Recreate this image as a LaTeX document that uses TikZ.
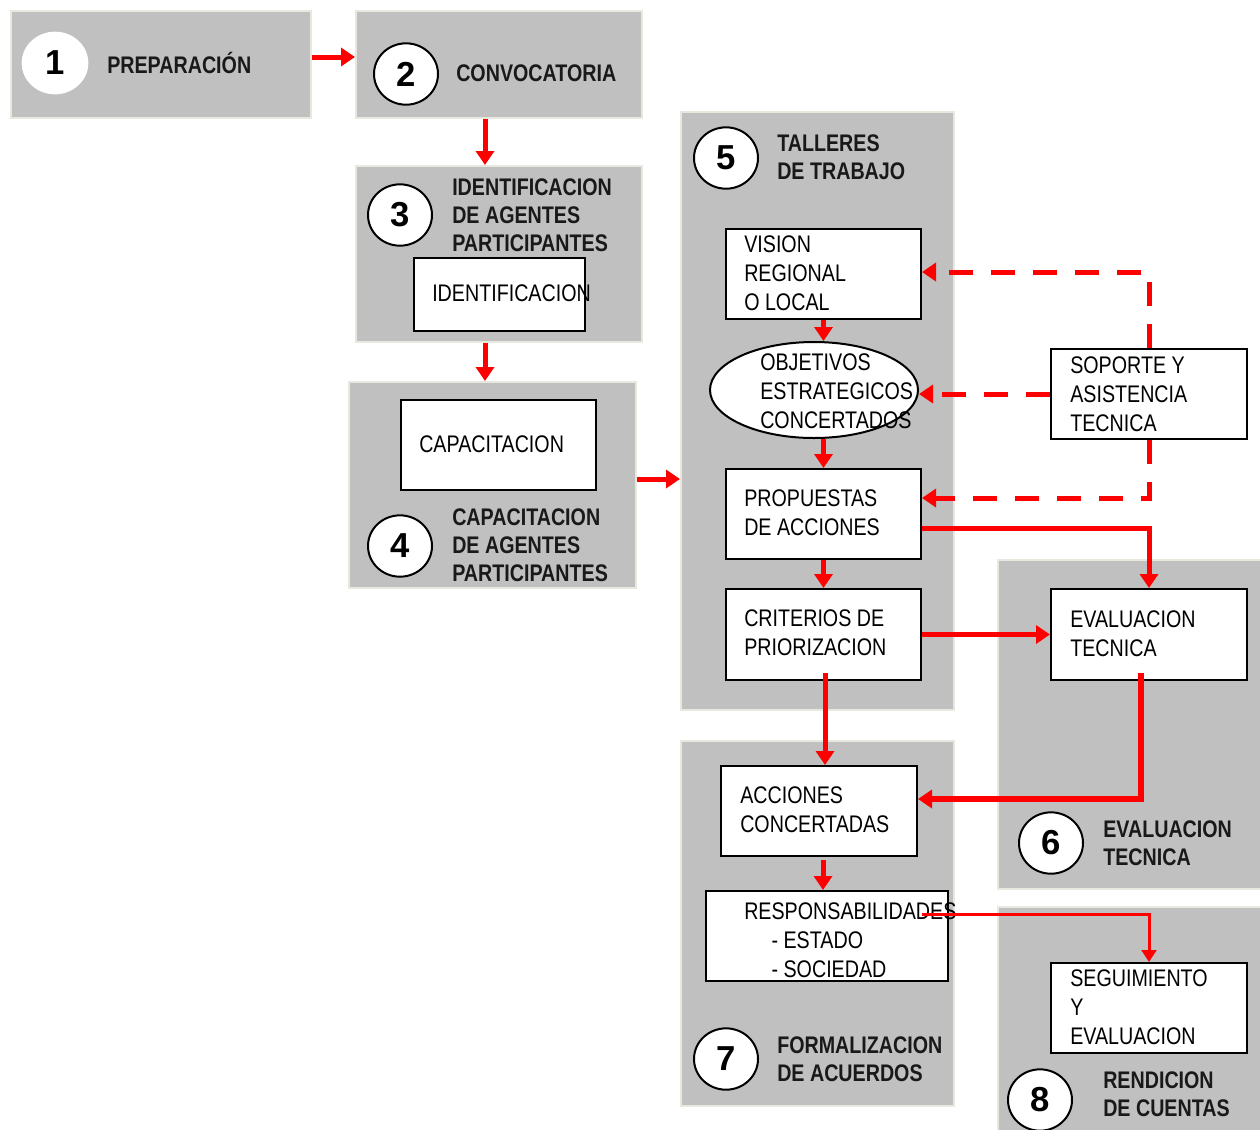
\documentclass[tikz,border=0pt]{standalone}
\usepackage{fontspec}
\setmainfont{Liberation Sans}[FakeStretch=0.82]
\newfontfamily\numfont{Liberation Sans}
\usetikzlibrary{shapes.geometric,arrows.meta}
\definecolor{panelgray}{HTML}{C0C0C0}
\definecolor{paneledge}{HTML}{E8E8DE}
\definecolor{arrred}{HTML}{FF0000}
\newcommand\boxfont{\fontsize{18}{21.75}\selectfont}
\newcommand\ttlfont{\bfseries\fontsize{18}{21}\selectfont}
\begin{document}
\begin{tikzpicture}[x=0.75pt,y=-0.75pt,
  panel/.style={draw=paneledge, fill=panelgray, line width=1.2pt, inner sep=0pt, anchor=north west},
  wbox/.style={draw=black, fill=white, line width=1.5pt, inner sep=0pt, anchor=north west},
  txt/.style={anchor=west, align=left, inner sep=0pt, font=\boxfont, text=black},
  ttl/.style={anchor=west, align=left, inner sep=0pt, font=\ttlfont, text=black!90},
  numc/.style={ellipse, draw=black, line width=1.5pt, fill=white, inner sep=0pt,
    minimum width=48pt, minimum height=46pt, font=\numfont\bfseries\fontsize{26}{26}\selectfont},
  arr/.style={draw=arrred, line width=3.75pt, -{Triangle[length=10.5pt,width=13.5pt]}},
  darr/.style={arr, dash pattern=on 18pt off 13.5pt},
  tarr/.style={draw=arrred, line width=2.25pt, -{Triangle[length=9pt,width=11pt]}}
]
\useasboundingbox (0,0) rectangle (1260,1129);

% panels
\node[panel, minimum width=300*0.75pt, minimum height=107*0.75pt] (p1) at (10,10) {};
\node[panel, minimum width=286*0.75pt, minimum height=107*0.75pt] (p2) at (355,10) {};
\node[panel, minimum width=286*0.75pt, minimum height=176*0.75pt] (p3) at (355,165) {};
\node[panel, minimum width=287*0.75pt, minimum height=206*0.75pt] (p4) at (348,381) {};
\node[panel, minimum width=273*0.75pt, minimum height=598*0.75pt] (p5) at (680,111) {};
\node[panel, minimum width=268*0.75pt, minimum height=329*0.75pt] (p6) at (997,559) {};
\node[panel, minimum width=273*0.75pt, minimum height=365*0.75pt] (p7) at (680,740) {};
\node[panel, minimum width=268*0.75pt, minimum height=228*0.75pt] (p8) at (997,906) {};

% number circles
\node[numc, draw=none, minimum width=50pt, minimum height=47pt] (c1) at (55,63) {1};
\node[numc] (c2) at (406,74) {2};
\node[numc] (c3) at (400,215) {3};
\node[numc] (c4) at (400,546) {4};
\node[numc] (c5) at (726,158) {5};
\node[numc] (c6) at (1051,843) {6};
\node[numc] (c7) at (726,1059) {7};
\node[numc] (c8) at (1040,1100) {8};

% panel titles
\node[ttl] (t1) at (107,63) {PREPARACIÓN};
\node[ttl] (t2) at (456,73) {CONVOCATORIA};
\node[ttl] (t3) at (452,215) {IDENTIFICACION\\DE AGENTES\\PARTICIPANTES};
\node[ttl] (t4) at (452,545) {CAPACITACION\\DE AGENTES\\PARTICIPANTES};
\node[ttl] (t5) at (777,157) {TALLERES\\DE TRABAJO};
\node[ttl] (t6) at (1103,843) {EVALUACION\\TECNICA};
\node[ttl] (t7) at (777,1059) {FORMALIZACION\\DE ACUERDOS};
\node[ttl] (t8) at (1103,1094) {RENDICION\\DE CUENTAS};

% white boxes
\node[wbox, minimum width=171*0.75pt, minimum height=73*0.75pt] (ident) at (413,257) {};
\node[wbox, minimum width=195*0.75pt, minimum height=90*0.75pt] (cap) at (400,399) {};
\node[wbox, minimum width=195*0.75pt, minimum height=90*0.75pt] (vision) at (725,228) {};
\node[ellipse, draw=black, fill=white, line width=1.5pt, inner sep=0pt,
      minimum width=208*0.75pt, minimum height=96*0.75pt] (obj) at (814,390) {};
\node[wbox, minimum width=195*0.75pt, minimum height=90*0.75pt] (prop) at (725,468) {};
\node[wbox, minimum width=195*0.75pt, minimum height=91*0.75pt] (crit) at (725,588) {};
\node[wbox, minimum width=196*0.75pt, minimum height=90*0.75pt] (sop) at (1050,348) {};
\node[wbox, minimum width=196*0.75pt, minimum height=91*0.75pt] (eval) at (1050,588) {};
\node[wbox, minimum width=196*0.75pt, minimum height=90*0.75pt] (acc) at (720,765) {};
\node[wbox, minimum width=242*0.75pt, minimum height=90*0.75pt] (resp) at (705,890) {};
\node[wbox, minimum width=196*0.75pt, minimum height=90*0.75pt] (seg) at (1050,962) {};

% box texts
\node[txt] (identt) at (432,293) {IDENTIFICACION};
\node[txt] (capt) at (419,444) {CAPACITACION};
\node[txt] (visiont) at (744,273) {VISION\\REGIONAL\\O LOCAL};
\node[txt] (objt) at (760,391) {OBJETIVOS\\ESTRATEGICOS\\CONCERTADOS};
\node[txt] (propt) at (744,513) {PROPUESTAS\\DE ACCIONES};
\node[txt] (critt) at (744,633) {CRITERIOS DE\\PRIORIZACION};
\node[txt] (sopt) at (1070,394) {SOPORTE Y\\ASISTENCIA\\TECNICA};
\node[txt] (evalt) at (1070,634) {EVALUACION\\TECNICA};
\node[txt] (acct) at (740,810) {ACCIONES\\CONCERTADAS};
\node[txt] (respt) at (744,940) {RESPONSABILIDADES\\\hspace*{20.5pt}- ESTADO\\\hspace*{20.5pt}- SOCIEDAD};
\node[txt] (segt) at (1070,1007) {SEGUIMIENTO\\Y\\EVALUACION};

% connectors between panels
\draw[arr] (p1.east |- 0,57) -- (p2.west |- 0,57);
\draw[arr] (p2.south -| 485,0) -- (p3.north -| 485,0);
\draw[arr] (p3.south -| 485,0) -- (p4.north -| 485,0);
\draw[arr] (p4.east |- 0,479) -- (p5.west |- 0,479);

% workshop flow
\draw[arr] (vision.south) -- (vision.south |- obj.north);
\draw[arr] (prop.north |- obj.south) -- (prop.north);
\draw[arr] (prop.south) -- (crit.north);
\draw[arr] (825,673) -- (acc.north -| 825,0);
\coordinate (accb) at (823,860);
\draw[arr] (accb) -- (resp.north -| 823,0);

% support (dashed)
\draw[darr] (sop.north) |- (vision.east |- 0,272);
\draw[darr] (sop.west) -- (obj.east |- sop.west);
\draw[darr] (sop.south) |- (prop.east |- 0,498);

% evaluation
\draw[arr] (prop.east |- 0,528) -| (eval.north);
\draw[arr] (crit.east) -- (eval.west);
\draw[arr, line width=4.5pt] (1141,673) |- (acc.east |- 0,799);

% follow-up
\coordinate (rs) at (922,914);
\draw[tarr] (rs) -| (seg.north);
\end{tikzpicture}
\end{document}
